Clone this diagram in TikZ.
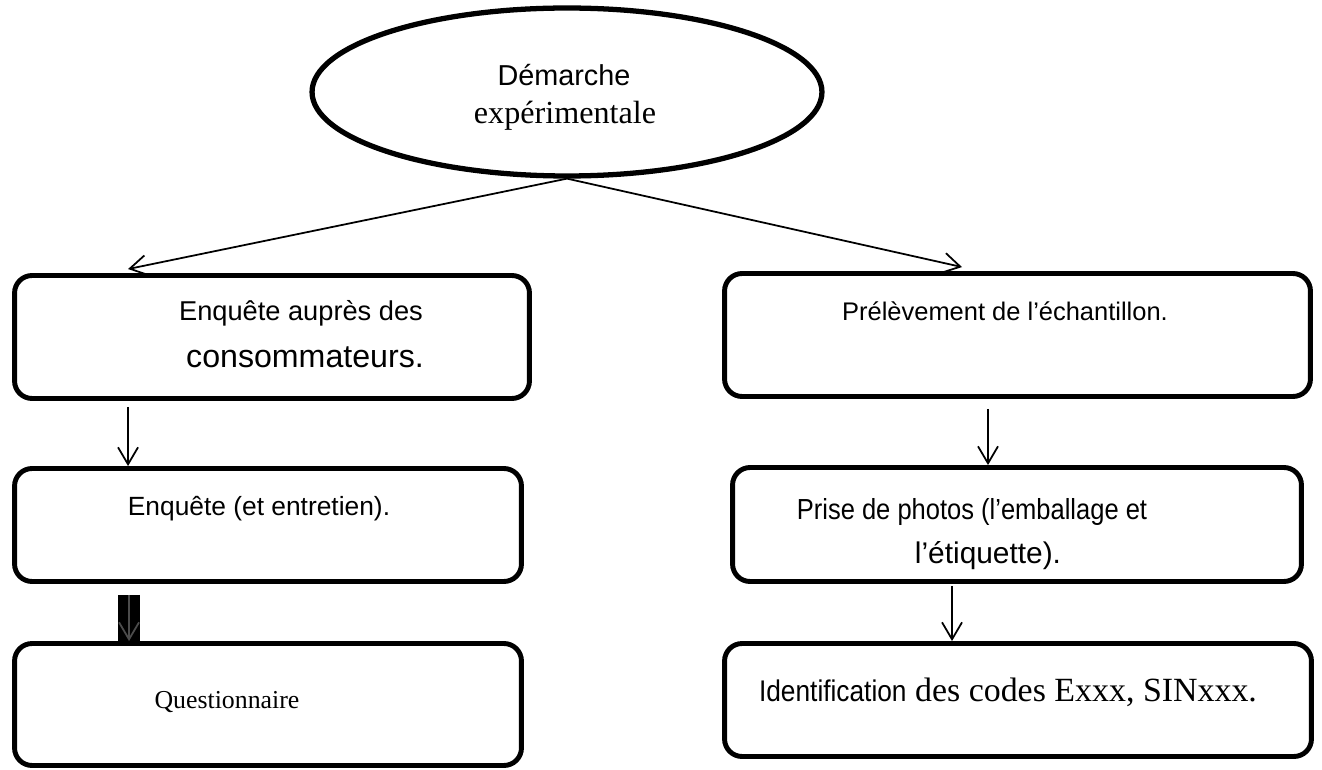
\documentclass[tikz,border=0pt]{standalone}
\usepackage{fontspec}
\setmainfont{Liberation Serif}
\setsansfont{Liberation Sans}
\newfontfamily\narrowsf[FakeStretch=0.88]{Liberation Sans}
\usetikzlibrary{shapes.geometric, arrows.meta}
\tikzset{
block/.style={
  draw,
  rectangle,
  rounded corners=0.35cm,
  line width=2.8pt,
  inner sep=0pt
  },
oval/.style={
  draw,
  ellipse,
  line width=3pt,
  inner sep=0pt,
  minimum width=10.2cm,
  minimum height=3.36cm
  },
txt/.style={anchor=base, inner sep=0pt, font=\sffamily\fontsize{15.5pt}{18pt}\selectfont},
line/.style={-{Straight Barb[length=3.4mm,width=4mm]}, line width=1pt},
bar/.style={line width=0.44cm}
}

\begin{document}
\begin{tikzpicture}[x=0.02cm, y=-0.02cm]
\useasboundingbox (0,0) rectangle (1322,770);

% blocs
\node[oval]																	(demarche)		at (567,92)		{};
\node[block, minimum width=10.3cm, minimum height=2.46cm]					(enquete)		at (272,337)	{};
\node[block, minimum width=11.72cm, minimum height=2.46cm]					(prelev)		at (1017.5,335)	{};
\node[block, minimum width=10.14cm, minimum height=2.26cm]					(entretien)		at (268,525)	{};
\node[block, minimum width=11.38cm, minimum height=2.28cm]					(photos)		at (1017,524.5)	{};
\node[block, minimum width=10.14cm, minimum height=2.44cm]					(questio)		at (268,704.5)	{};
\node[block, minimum width=11.74cm, minimum height=2.26cm]					(identif)		at (1018,700)	{};

% textes
\node[txt, font=\sffamily\fontsize{16.4pt}{19pt}\selectfont]				(demarcheA)		at (564,86)		{Démarche};
\node[txt, font=\rmfamily\fontsize{18.3pt}{22pt}\selectfont]				(demarcheB)		at (565,124)	{expérimentale};
\node[txt]																	(enqueteA)		at (301,320)	{Enquête auprès des};
\node[txt, font=\sffamily\fontsize{18.3pt}{21pt}\selectfont]				(enqueteB)		at (305,367)	{consommateurs.};
\node[txt, font=\sffamily\fontsize{14.5pt}{18pt}\selectfont]				(prelevT)		at (1005,320)	{Prélèvement de l’échantillon.};
\node[txt, font=\sffamily\fontsize{15pt}{18pt}\selectfont]					(entretienT)	at (259,515)	{Enquête (et entretien).};
\node[txt, font=\narrowsf\fontsize{16.5pt}{19pt}\selectfont]				(photosA)		at (972,519)	{Prise de photos (l’emballage et};
\node[txt, font=\sffamily\fontsize{17pt}{20pt}\selectfont]					(photosB)		at (988,563)	{l’étiquette).};
\node[txt, font=\rmfamily\fontsize{14.7pt}{18pt}\selectfont]				(questioT)		at (227,708)	{Questionnaire};
\node[txt, font=\rmfamily\fontsize{19.3pt}{22pt}\selectfont]				(identifT)		at (1008,701)	{{\narrowsf\fontsize{17pt}{20pt}\selectfont Identification} des codes Exxx, SINxxx.};

% liaisons
\draw[line] (demarche.south) -- ([xshift=-2.88cm, yshift=0.08cm]enquete.north);
\draw[line] (demarche.south) -- ([xshift=-1.11cm, yshift=0.08cm]prelev.north);
\draw[line] ([xshift=-2.88cm, yshift=-0.12cm]enquete.south) -- ([xshift=-2.88cm]enquete.south |- entretien.north);
\draw[line] ([xshift=-0.59cm, yshift=-0.2cm]prelev.south) -- ([xshift=-0.59cm]prelev.south |- photos.north);
\draw[line] ([xshift=-1.3cm, yshift=-0.04cm]photos.south) -- ([xshift=-1.3cm]photos.south |- identif.north);
\draw[bar] ([xshift=-2.78cm, yshift=-0.22cm]entretien.south) -- ([xshift=-2.78cm]entretien.south |- questio.north);
\draw[line, black!70] ([xshift=-2.78cm, yshift=-0.22cm]entretien.south) -- ([xshift=-2.78cm]entretien.south |- questio.north);
\end{tikzpicture}
\end{document}
